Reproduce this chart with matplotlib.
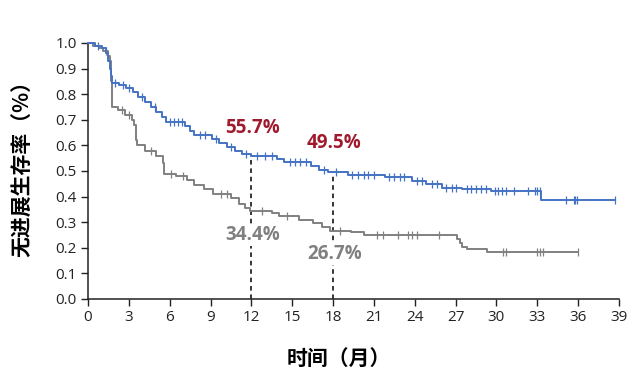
import numpy as np
import matplotlib
matplotlib.use("Agg")
import matplotlib.pyplot as plt

plt.rcParams['font.family'] = ['Noto Sans CJK SC', 'DejaVu Sans']

# Blue arm (step curve: time of event, survival after event)
blue_t = [0, 0.5, 1.0, 1.3, 1.5, 1.6, 1.7, 1.8, 2.3, 2.8, 3.3, 3.7, 4.2, 4.6, 5.0, 5.4, 5.7,
          7.1, 7.5, 7.8, 9.1, 9.6, 10.2, 10.8, 11.3, 12.0, 13.9, 14.4, 16.4, 17.0, 17.6,
          19.1, 21.8, 23.8, 24.8, 26.0, 27.5, 29.6, 33.3]
blue_s = [1.0, 0.99, 0.98, 0.96, 0.93, 0.90, 0.87, 0.845, 0.835, 0.825, 0.81, 0.79, 0.77, 0.75,
          0.73, 0.71, 0.69, 0.675, 0.655, 0.64, 0.625, 0.61, 0.595, 0.58, 0.567, 0.557, 0.545,
          0.535, 0.52, 0.505, 0.495, 0.485, 0.475, 0.46, 0.448, 0.435, 0.428, 0.42, 0.387]
blue_end = 38.7
blue_cens = [0.7, 2.0, 2.6, 3.0, 4.0, 4.9, 6.0, 6.3, 6.6, 6.9, 8.2, 8.6, 9.4, 10.5, 11.6, 12.4,
             13.0, 13.5, 14.8, 15.2, 15.6, 16.0, 17.3, 18.2, 19.4, 19.8, 20.3, 20.6, 21.0,
             22.1, 22.5, 22.9, 23.2, 24.2, 24.5, 25.3, 25.6, 26.3, 26.7, 27.0, 27.8, 28.1,
             28.5, 28.9, 29.2, 29.9, 30.1, 30.4, 30.7, 31.3, 32.3, 32.8, 33.0, 33.2,
             35.1, 35.7, 35.8, 35.9, 38.7]

# Gray arm
gray_t = [0, 0.4, 0.8, 1.1, 1.5, 1.65, 1.7, 1.75, 1.8, 2.2, 2.7, 3.2, 3.4, 3.5, 3.6, 4.2, 5.0,
          5.5, 5.6, 6.5, 7.3, 7.8, 8.5, 9.2, 10.5, 11.1, 11.5, 11.9, 13.5, 14.0, 15.5, 16.5,
          17.2, 17.8, 19.3, 20.3, 27.1, 27.3, 27.5, 27.8, 29.3]
gray_s = [1.0, 0.99, 0.98, 0.97, 0.95, 0.93, 0.85, 0.78, 0.75, 0.74, 0.72, 0.70, 0.68, 0.62,
          0.60, 0.58, 0.56, 0.53, 0.49, 0.48, 0.465, 0.445, 0.43, 0.41, 0.395, 0.37, 0.355,
          0.344, 0.335, 0.325, 0.31, 0.295, 0.28, 0.267, 0.26, 0.25, 0.235, 0.22, 0.205,
          0.195, 0.183]
gray_end = 36.0
gray_cens = [1.3, 2.5, 3.0, 4.6, 6.1, 7.0, 9.8, 10.2, 12.8, 14.6, 18.5, 21.2, 21.7, 22.8,
             23.5, 23.8, 24.2, 25.8, 30.5, 30.7, 33.0, 33.2, 33.4, 36.0]

xticks = list(range(0, 40, 3))
yticks = [round(0.1 * i, 1) for i in range(11)]

blue_c = '#4472C4'
gray_c = '#808080'
red_c = '#A01A2E'

fig = plt.figure(figsize=(6.39, 3.88), dpi=100)
ax = fig.add_axes([0.1377, 0.2294, 0.8310, 0.6598])


def draw(t, s, end, cens, color):
    tt = list(t) + [end]
    ss = list(s) + [s[-1]]
    ax.step(tt, ss, where='post', color=color, lw=1.4, clip_on=False, zorder=3)
    idx = np.searchsorted(np.array(t), np.array(cens), side='right') - 1
    cy = np.array(s)[idx]
    ax.plot(cens, cy, linestyle='none', marker='|', markersize=6, mew=0.9,
            color=color, clip_on=False, zorder=3)


draw(gray_t, gray_s, gray_end, gray_cens, gray_c)
draw(blue_t, blue_s, blue_end, blue_cens, blue_c)

# Reference dashed lines
ax.plot([12, 12], [0, 0.557], ls=(0, (3, 2.5)), color='black', lw=1.1, zorder=2)
ax.plot([18, 18], [0, 0.495], ls=(0, (3, 2.5)), color='black', lw=1.1, zorder=2)

pf = ['Open Sans', 'DejaVu Sans']
bb = dict(facecolor='white', edgecolor='none', pad=0.5)
ax.text(12.1, 0.668, '55.7%', color=red_c, fontsize=13.5, fontweight='bold',
        ha='center', va='center', family=pf)
ax.text(18.1, 0.609, '49.5%', color=red_c, fontsize=13.5, fontweight='bold',
        ha='center', va='center', family=pf)
ax.text(12.1, 0.25, '34.4%', color=gray_c, fontsize=13.5, fontweight='bold',
        ha='center', va='center', family=pf, bbox=bb, zorder=4)
ax.text(18.1, 0.176, '26.7%', color=gray_c, fontsize=13.5, fontweight='bold',
        ha='center', va='center', family=pf, bbox=bb, zorder=4)

ax.set_xlim(0, 39)
ax.set_ylim(0, 1.0)
ax.set_xticks(xticks)
ax.set_xticklabels([str(x) for x in xticks])
ax.set_yticks(yticks)
ax.set_yticklabels([f'{y:.1f}' for y in yticks])
for sp in ['top', 'right']:
    ax.spines[sp].set_visible(False)
for sp in ['left', 'bottom']:
    ax.spines[sp].set_linewidth(1.1)
    ax.spines[sp].set_color('#222222')
ax.tick_params(axis='both', direction='out', length=5, width=1.0, color='#222222',
               labelsize=11, labelcolor='#222222', pad=3)
for lab in ax.get_xticklabels() + ax.get_yticklabels():
    lab.set_family(pf)

ax.set_xlabel('时间（月）', fontsize=15, fontweight='bold')
ax.xaxis.set_label_coords(0.472, -0.19)
ax.set_ylabel('无进展生存率（%）', fontsize=15, fontweight='bold')
ax.yaxis.set_label_coords(-0.103, 0.53)

fig.savefig('out.png', dpi=100)
